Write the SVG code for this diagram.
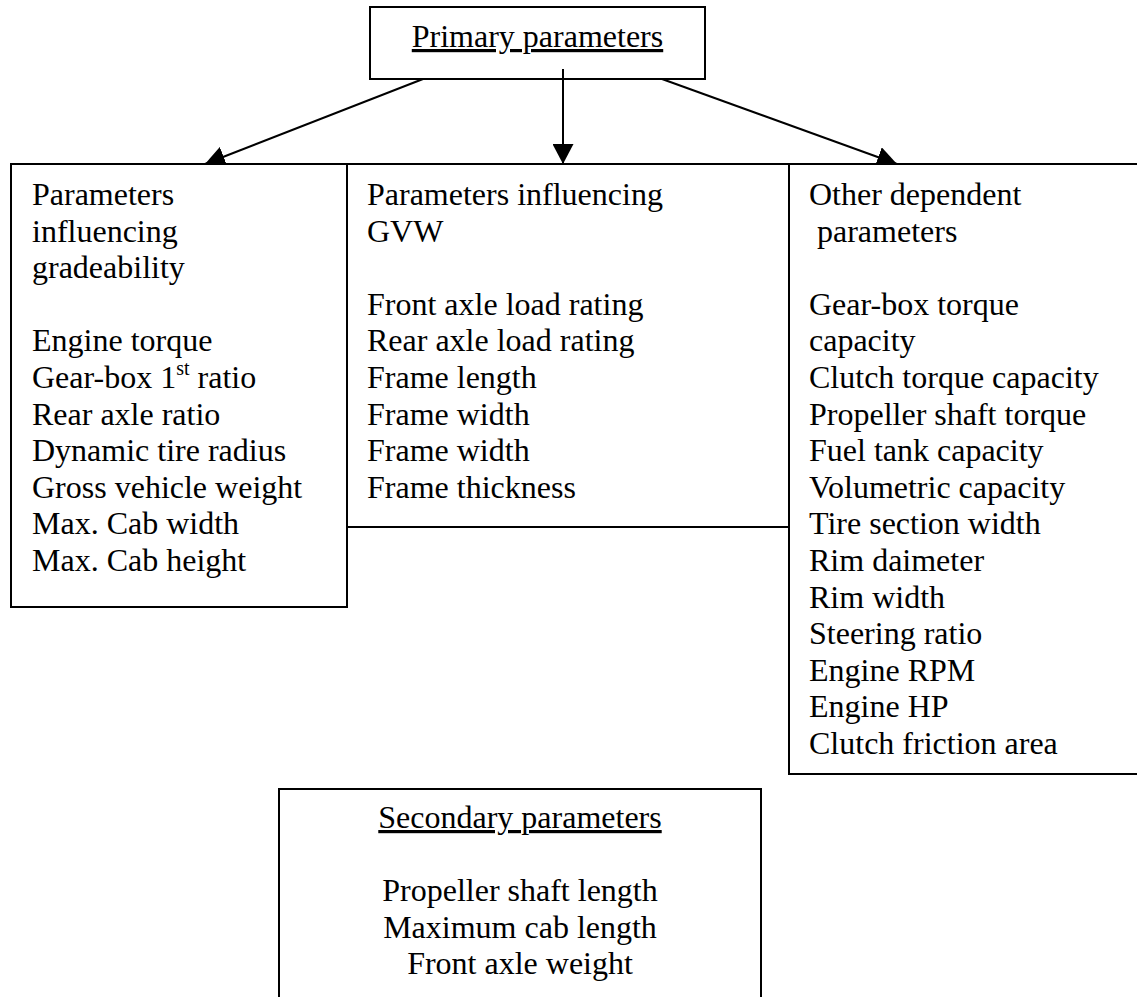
<svg xmlns="http://www.w3.org/2000/svg" width="1137" height="997" viewBox="0 0 1137 997">
<style>
.box{fill:#fff;stroke:#000;stroke-width:2}
.t{font-family:"Liberation Serif","Times New Roman",serif;font-size:32px;fill:#000}
.c{text-anchor:middle}
.u{text-decoration:underline}
.con{stroke:#000;stroke-width:2;fill:none;marker-end:url(#ah)}
</style>
<defs>
<marker id="ah" markerUnits="userSpaceOnUse" markerWidth="20" markerHeight="21" refX="20" refY="10.5" viewBox="0 0 20 21" orient="auto">
<path d="M0,0 L20,10.5 L0,21 z" fill="#000"/>
</marker>
</defs>
<rect width="1137" height="997" fill="#fff"/>
<g id="primary">
<rect class="box" x="370" y="7" width="335" height="72"/>
<text class="t c u" x="537.5" y="47">Primary parameters</text>
</g>
<g id="connectors">
<line class="con" x1="563" y1="69" x2="563" y2="164"/>
<line class="con" x1="423" y1="79" x2="205" y2="164"/>
<line class="con" x1="662" y1="79" x2="897" y2="164"/>
</g>
<g id="gradeability">
<rect class="box" x="11" y="164" width="336" height="443"/>
<text class="t" x="32" y="205">Parameters</text>
<text class="t" x="32" y="241.6">influencing</text>
<text class="t" x="32" y="278.2">gradeability</text>
<text class="t" x="32" y="351.4">Engine torque</text>
<text class="t" x="32" y="388">Gear-box 1<tspan font-size="20" dy="-13">st</tspan><tspan dy="13"> ratio</tspan></text>
<text class="t" x="32" y="424.6">Rear axle ratio</text>
<text class="t" x="32" y="461.2">Dynamic tire radius</text>
<text class="t" x="32" y="497.8">Gross vehicle weight</text>
<text class="t" x="32" y="534.4">Max. Cab width</text>
<text class="t" x="32" y="571">Max. Cab height</text>
</g>
<g id="gvw">
<rect class="box" x="347" y="164" width="442" height="363"/>
<text class="t" x="367" y="205">Parameters influencing</text>
<text class="t" x="367" y="241.6">GVW</text>
<text class="t" x="367" y="314.8">Front axle load rating</text>
<text class="t" x="367" y="351.4">Rear axle load rating</text>
<text class="t" x="367" y="388">Frame length</text>
<text class="t" x="367" y="424.6">Frame width</text>
<text class="t" x="367" y="461.2">Frame width</text>
<text class="t" x="367" y="497.8">Frame thickness</text>
</g>
<g id="other">
<rect class="box" x="789" y="164" width="360" height="610"/>
<text class="t" x="809" y="205">Other dependent</text>
<text class="t" x="817" y="241.6">parameters</text>
<text class="t" x="809" y="314.8">Gear-box torque</text>
<text class="t" x="809" y="351.4">capacity</text>
<text class="t" x="809" y="388">Clutch torque capacity</text>
<text class="t" x="809" y="424.6">Propeller shaft torque</text>
<text class="t" x="809" y="461.2">Fuel tank capacity</text>
<text class="t" x="809" y="497.8">Volumetric capacity</text>
<text class="t" x="809" y="534.4">Tire section width</text>
<text class="t" x="809" y="571">Rim daimeter</text>
<text class="t" x="809" y="607.6">Rim width</text>
<text class="t" x="809" y="644.2">Steering ratio</text>
<text class="t" x="809" y="680.8">Engine RPM</text>
<text class="t" x="809" y="717.4">Engine HP</text>
<text class="t" x="809" y="754">Clutch friction area</text>
</g>
<g id="secondary">
<rect class="box" x="279" y="789" width="482" height="230"/>
<text class="t c u" x="520" y="828">Secondary parameters</text>
<text class="t c" x="520" y="901">Propeller shaft length</text>
<text class="t c" x="520" y="937.5">Maximum cab length</text>
<text class="t c" x="520" y="974">Front axle weight</text>
</g>
</svg>
